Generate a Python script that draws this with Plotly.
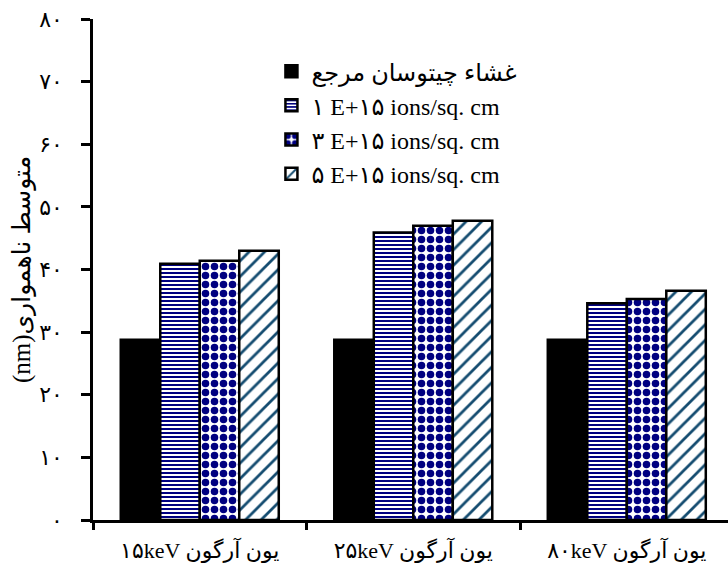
import plotly.graph_objects as go

categories = ["۱۵keV یون آرگون", "۲۵keV یون آرگون", "۸۰keV یون آرگون"]
series_names = ["غشاء چیتوسان مرجع", "۱ E+۱۵ ions/sq. cm", "۳ E+۱۵ ions/sq. cm", "۵ E+۱۵ ions/sq. cm"]
ref_values = [28.8, 28.8, 28.8]
dose1_values = [40.9, 45.9, 34.6]
dose3_values = [41.4, 47.0, 35.3]
dose5_values = [43.0, 47.8, 36.6]
y_tickvals = [0, 10, 20, 30, 40, 50, 60, 70, 80]
y_ticktext = ["۰", "۱۰", "۲۰", "۳۰", "۴۰", "۵۰", "۶۰", "۷۰", "۸۰"]
y_title = "(nm)متوسط ناهمواری"

FONT = "'Liberation Serif', 'DejaVu Sans', serif"

fig = go.Figure()
fig.add_trace(go.Bar(
    x=categories, y=ref_values, name=series_names[0], legendgroup="a",
    marker=dict(color="#000000", line=dict(color="#000000", width=2.5)),
))
fig.add_trace(go.Bar(
    x=categories, y=dose1_values, name=series_names[1], legendgroup="b",
    marker=dict(color="#ffffff", line=dict(color="#000000", width=2.5),
                pattern=dict(shape="-", fgcolor="#000080", bgcolor="#ffffff",
                             size=4, solidity=0.5, fillmode="replace")),
))
fig.add_trace(go.Bar(
    x=categories, y=dose3_values, name=series_names[2], legendgroup="c",
    marker=dict(color="#ffffff", line=dict(color="#000000", width=2.5),
                pattern=dict(shape=".", fgcolor="#000080", bgcolor="#ffffff",
                             size=9, solidity=0.55, fillmode="replace")),
))
fig.add_trace(go.Bar(
    x=categories, y=dose5_values, name=series_names[3], legendgroup="d",
    marker=dict(color="#ffffff", line=dict(color="#000000", width=2.5),
                pattern=dict(shape="/", fgcolor="#144C70", bgcolor="#ffffff",
                             size=11, solidity=0.25, fillmode="replace")),
))

fig.update_layout(
    width=728, height=572,
    margin=dict(l=93, r=0, t=19, b=52),
    paper_bgcolor="#ffffff", plot_bgcolor="#ffffff",
    barmode="group", bargap=0.26, bargroupgap=0,
    font=dict(family=FONT, color="#000000"),
    showlegend=True,
    legend=dict(x=0.281, y=0.94, xanchor="left", yanchor="top",
                font=dict(size=24, family=FONT), bgcolor="rgba(0,0,0,0)",
                tracegroupgap=0, itemwidth=30),
    xaxis=dict(
        range=[-0.5, 2.474], type="category", tickson="boundaries",
        showline=True, linecolor="#000000", linewidth=2.5,
        ticks="outside", ticklen=7, tickwidth=2.5, tickcolor="#000000",
        tickfont=dict(size=22, family=FONT), ticklabelstandoff=9,
        showgrid=False, zeroline=False,
    ),
    yaxis=dict(
        range=[0, 80], tickvals=y_tickvals, ticktext=y_ticktext,
        showline=True, linecolor="#000000", linewidth=2.5,
        ticks="outside", ticklen=9, tickwidth=2.5, tickcolor="#000000",
        tickfont=dict(size=22, family=FONT), ticklabelstandoff=14,
        showgrid=False, zeroline=False,
        title=dict(text=y_title, font=dict(size=25, family=FONT), standoff=2),
    ),
)

fig.write_html("out.html")
